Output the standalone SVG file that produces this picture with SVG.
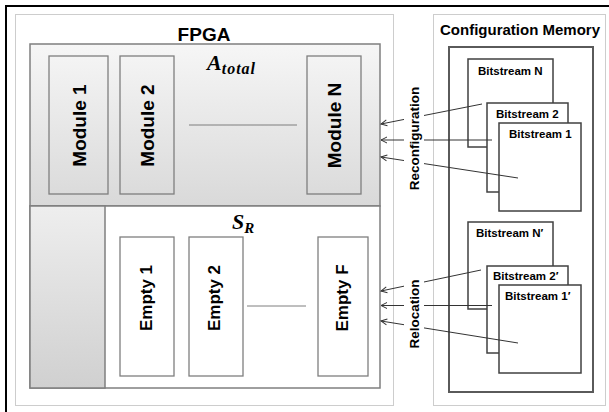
<svg xmlns="http://www.w3.org/2000/svg" width="609" height="412" viewBox="0 0 609 412">
<defs>
<linearGradient id="gTop" x1="0" y1="0" x2="0" y2="1">
<stop offset="0" stop-color="#f6f6f6"/><stop offset="1" stop-color="#d9d9d9"/>
</linearGradient>
<linearGradient id="gLeft" x1="0" y1="0" x2="0" y2="1">
<stop offset="0" stop-color="#eeeeee"/><stop offset="1" stop-color="#d0d0d0"/>
</linearGradient>
<marker id="arr" markerWidth="8" markerHeight="8" refX="7" refY="4" orient="auto" markerUnits="userSpaceOnUse">
<path d="M1,1 L7,4 L1,7" fill="none" stroke="#333" stroke-width="1"/>
</marker>
<style>
.dot{fill:none;stroke:#9a9a9a;stroke-width:1;stroke-dasharray:1 1}
.gbox{stroke:#7f7f7f;stroke-width:1.5}
.mod{fill:none;stroke:#7f7f7f;stroke-width:1.3}
.emp{fill:#fff;stroke:#7f7f7f;stroke-width:1.3}
.bs{fill:#fff;stroke:#404040;stroke-width:1.5}
.lbl{font-family:"Liberation Sans",Arial,sans-serif;font-weight:bold;fill:#000}
.mt{font-size:19px;text-anchor:middle}
.et{font-size:17px;text-anchor:middle}
.bt{font-size:11.5px}
.vt{font-size:13.5px;text-anchor:middle}
.math{font-family:"Liberation Serif","Times New Roman",serif;font-style:italic;font-weight:bold;fill:#000}
.con{stroke:#333;stroke-width:1;fill:none;marker-end:url(#arr)}
.dash{stroke:#7f7f7f;stroke-width:1}
</style>
</defs>
<rect x="0" y="0" width="609" height="412" fill="#fff"/>
<rect x="6" y="6" width="700" height="500" fill="none" stroke="#000" stroke-width="2"/>

<g id="fpga">
<rect class="dot" x="15.5" y="14.5" width="378" height="391"/>
<text class="lbl" x="204" y="41" font-size="19" text-anchor="middle">FPGA</text>
</g>

<g id="a-total">
<rect class="gbox" x="30" y="44" width="350" height="162" fill="url(#gTop)"/>
<text class="math" x="207" y="70" font-size="22">A<tspan font-size="16" dy="4" letter-spacing="1">total</tspan></text>
</g>

<g id="s-r">
<rect class="gbox" x="30" y="206" width="350" height="182" fill="#fff"/>
<rect class="gbox" x="30" y="206" width="75" height="182" fill="url(#gLeft)"/>
<text class="math" x="232" y="229" font-size="22">S<tspan font-size="15" dy="4">R</tspan></text>
</g>

<g id="module-1"><rect class="mod" x="49" y="56" width="59" height="138"/><text class="lbl mt" transform="translate(85.5,125.5) rotate(-90)">Module 1</text></g>
<g id="module-2"><rect class="mod" x="120" y="56" width="54" height="138"/><text class="lbl mt" transform="translate(154,125.5) rotate(-90)">Module 2</text></g>
<g id="module-n"><rect class="mod" x="307" y="56" width="54" height="138"/><text class="lbl mt" transform="translate(341,125.5) rotate(-90)">Module N</text></g>

<g id="empty-1"><rect class="emp" x="120" y="237" width="54" height="139"/><text class="lbl et" transform="translate(152,298) rotate(-90)">Empty 1</text></g>
<g id="empty-2"><rect class="emp" x="189" y="237" width="54" height="139"/><text class="lbl et" transform="translate(220,298) rotate(-90)">Empty 2</text></g>
<g id="empty-f"><rect class="emp" x="318" y="237" width="50" height="139"/><text class="lbl et" transform="translate(348,298) rotate(-90)">Empty F</text></g>

<g id="config-memory">
<rect class="dot" x="433.5" y="14.5" width="172" height="391"/>
<text class="lbl" x="520" y="35" font-size="15" text-anchor="middle">Configuration Memory</text>
<rect x="449" y="47" width="144" height="345" fill="none" stroke="#5a5a5a" stroke-width="2"/>
</g>

<g id="bitstream-n"><rect class="bs" x="468" y="59" width="85" height="88"/><text class="lbl bt" x="478" y="75">Bitstream N</text></g>
<g id="bitstream-2"><rect class="bs" x="487" y="103" width="81" height="89"/><text class="lbl bt" x="496" y="118">Bitstream 2</text></g>
<g id="bitstream-1"><rect class="bs" x="499" y="123" width="82" height="88"/><text class="lbl bt" x="509" y="138">Bitstream 1</text></g>

<g id="bitstream-n-prime"><rect class="bs" x="468" y="222" width="85" height="87"/><text class="lbl bt" x="476" y="237">Bitstream N′</text></g>
<g id="bitstream-2-prime"><rect class="bs" x="487" y="266" width="81" height="87"/><text class="lbl bt" x="493" y="280">Bitstream 2′</text></g>
<g id="bitstream-1-prime"><rect class="bs" x="499" y="285" width="82" height="88"/><text class="lbl bt" x="505" y="300">Bitstream 1′</text></g>

<g id="connectors">
<line class="dash" x1="189" y1="125" x2="297" y2="125"/>
<line class="dash" x1="247" y1="306" x2="306" y2="306"/>
<line class="con" x1="482" y1="104" x2="381" y2="124"/>
<line class="con" x1="492" y1="140" x2="381" y2="140"/>
<line class="con" x1="518" y1="178" x2="381" y2="157"/>
<line class="con" x1="481" y1="270" x2="381" y2="291"/>
<line class="con" x1="492" y1="305.5" x2="381" y2="305.5"/>
<line class="con" x1="518" y1="343" x2="381" y2="321"/>
</g>

<g id="reconfiguration">
<rect x="404" y="84" width="20" height="110" fill="#fff"/>
<text class="lbl vt" transform="translate(419,138.5) rotate(-90)">Reconfiguration</text>
</g>
<g id="relocation">
<rect x="404" y="276" width="20" height="76" fill="#fff"/>
<text class="lbl vt" transform="translate(419,314) rotate(-90)">Relocation</text>
</g>
</svg>
